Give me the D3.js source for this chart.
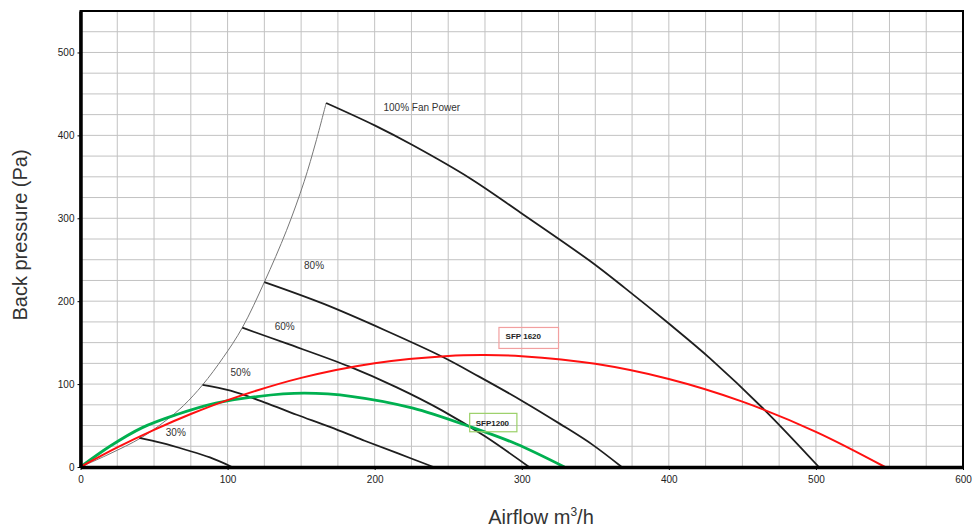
<!DOCTYPE html>
<html>
<head>
<meta charset="utf-8">
<script src="https://cdn.jsdelivr.net/npm/d3@7"></script>
<style>
    body { margin: 0; background: #fff; }
    svg { display: block; font-family: Arial, "Liberation Sans", sans-serif; }
</style>
</head>
<body>
<svg id="drawing_region"></svg>
<script>
// axis ticks
var xTicks = [0, 100, 200, 300, 400, 500, 600];
var yTicks = [0, 100, 200, 300, 400, 500];

// fan curves (airflow m3/h, back pressure Pa)
var fan100 = [
    {x:167, y:439}, {x:200, y:412}, {x:226, y:388}, {x:265, y:348}, {x:299, y:307},
    {x:346, y:249}, {x:370, y:216}, {x:400, y:173}, {x:428, y:131}, {x:465, y:69}, {x:502, y:0}
];
var fan80 = [
    {x:125, y:223}, {x:165, y:197}, {x:207, y:165}, {x:246, y:133}, {x:271, y:109},
    {x:300, y:80}, {x:326, y:52}, {x:348, y:27}, {x:368, y:0}
];
var fan60 = [
    {x:110, y:168}, {x:140, y:149}, {x:183, y:121}, {x:215, y:96}, {x:246, y:68},
    {x:275, y:37}, {x:305, y:0}
];
var fan50 = [
    {x:83, y:99}, {x:102, y:92}, {x:125, y:78}, {x:147, y:63}, {x:170, y:48},
    {x:192, y:32.5}, {x:215, y:17}, {x:240, y:0}
];
var fan30 = [
    {x:40, y:35}, {x:55, y:29}, {x:72, y:20.5}, {x:88, y:11.5}, {x:103, y:0}
];
// envelope through the start of each fan curve
var envelope = [
    {x:0, y:0}, {x:20, y:16}, {x:41, y:35}, {x:58, y:56}, {x:70, y:74}, {x:83, y:99},
    {x:97, y:132}, {x:110, y:168}, {x:125, y:223}, {x:140, y:285}, {x:152, y:344},
    {x:160, y:392}, {x:167, y:439}
];
// SFP system curves
var sfp1620 = [
    {x:0, y:0}, {x:25, y:23.6}, {x:50, y:44.8}, {x:75, y:63.9}, {x:100, y:80.7},
    {x:150, y:107.5}, {x:200, y:125.2}, {x:250, y:134}, {x:275, y:135}, {x:300, y:133.7},
    {x:350, y:124.4}, {x:400, y:106.1}, {x:450, y:78.8}, {x:500, y:42.4}, {x:547, y:0}
];
var sfp1200 = [
    {x:0, y:0}, {x:20, y:25}, {x:42, y:47.5}, {x:65, y:63}, {x:92, y:77}, {x:120, y:85},
    {x:152, y:89}, {x:185, y:85}, {x:226, y:71}, {x:265, y:48.5}, {x:296, y:28}, {x:329, y:0}
];

var fanLabels = ['100% Fan Power', '80%', '60%', '50%', '30%'];
var sfpLabels = ['SFP 1620', 'SFP1200'];

class FanChart {

    constructor(config) {
        this.config = {
            parent: config.parent,
            width: config.width || 973,
            height: config.height || 529,
            margin: config.margin || {top:11, right:10, bottom:62, left:80.5}
        };
        this.init();
    }

    init() {
        let self = this;

        self.svg = d3.select(self.config.parent)
            .attr('width', self.config.width)
            .attr('height', self.config.height);

        self.chart = self.svg.append('g')
            .attr('transform', `translate(${self.config.margin.left}, ${self.config.margin.top})`);

        self.inner_width = self.config.width - self.config.margin.left - self.config.margin.right;
        self.inner_height = self.config.height - self.config.margin.top - self.config.margin.bottom;

        self.xscale = d3.scaleLinear()
            .domain([0, 600])
            .range([0, self.inner_width]);

        self.yscale = d3.scaleLinear()
            .domain([0, 550])
            .range([self.inner_height, 0]);

        self.line = d3.line()
            .x(d => self.xscale(d.x))
            .y(d => self.yscale(d.y))
            .curve(d3.curveCatmullRom.alpha(0.5));
    }

    render() {
        let self = this;
        const w = self.inner_width, h = self.inner_height;

        // grid every 25
        self.chart.append('g')
            .selectAll('line')
            .data(d3.range(25, 600, 25))
            .join('line')
            .attr('x1', d => self.xscale(d)).attr('x2', d => self.xscale(d))
            .attr('y1', 0).attr('y2', h)
            .attr('stroke', '#c2c2c2')
            .attr('stroke-width', 1);

        self.chart.append('g')
            .selectAll('line')
            .data(d3.range(25, 550, 25))
            .join('line')
            .attr('x1', 0).attr('x2', w)
            .attr('y1', d => self.yscale(d)).attr('y2', d => self.yscale(d))
            .attr('stroke', '#c2c2c2')
            .attr('stroke-width', 1);

        // frame
        self.chart.append('rect')
            .attr('width', w).attr('height', h)
            .attr('fill', 'none')
            .attr('stroke', '#000')
            .attr('stroke-width', 2);

        // envelope
        self.chart.append('path')
            .attr('d', self.line(envelope))
            .attr('fill', 'none')
            .attr('stroke', '#777')
            .attr('stroke-width', 1);

        // fan curves
        [fan100, fan80, fan60, fan50, fan30].forEach(c => {
            self.chart.append('path')
                .attr('d', self.line(c))
                .attr('fill', 'none')
                .attr('stroke', '#1e1e1e')
                .attr('stroke-width', 1.8);
        });

        // SFP curves
        self.chart.append('path')
            .attr('d', self.line(sfp1200))
            .attr('fill', 'none')
            .attr('stroke', '#00b050')
            .attr('stroke-width', 2.8);

        self.chart.append('path')
            .attr('d', self.line(sfp1620))
            .attr('fill', 'none')
            .attr('stroke', '#ff1010')
            .attr('stroke-width', 2);

        // axes
        const xaxis = d3.axisBottom(self.xscale)
            .tickValues(xTicks)
            .tickSize(3)
            .tickSizeOuter(0);
        const yaxis = d3.axisLeft(self.yscale)
            .tickValues(yTicks)
            .tickSize(3)
            .tickSizeOuter(0);

        const xg = self.chart.append('g')
            .attr('transform', `translate(0, ${h})`)
            .call(xaxis);
        xg.select('.domain').attr('stroke-width', 3.5);
        xg.selectAll('text').attr('font-size', 10).attr('fill', '#222').attr('dy', '0.95em');

        const yg = self.chart.append('g')
            .call(yaxis);
        yg.select('.domain').attr('stroke-width', 3.5);
        yg.selectAll('text').attr('font-size', 10).attr('fill', '#222');

        // curve labels
        const labelPos = [[206, 434], [152, 243], [132, 169], [102, 114], [58, 42]];
        fanLabels.forEach((t, i) => {
            self.chart.append('text')
                .attr('x', self.xscale(labelPos[i][0]))
                .attr('y', self.yscale(labelPos[i][1]))
                .attr('dy', '0.35em')
                .attr('font-size', 10)
                .attr('fill', '#333')
                .text(t);
        });

        const boxes = [
            {x0:284.5, x1:325, y0:168.3, y1:143, tx:289, ty:157.5, stroke:'#f2a0a0'},
            {x0:264.6, x1:296.7, y0:64.7, y1:42.5, tx:268.7, ty:52.6, stroke:'#9bd068'}
        ];
        boxes.forEach((b, i) => {
            self.chart.append('rect')
                .attr('x', self.xscale(b.x0))
                .attr('y', self.yscale(b.y0))
                .attr('width', self.xscale(b.x1) - self.xscale(b.x0))
                .attr('height', self.yscale(b.y1) - self.yscale(b.y0))
                .attr('fill', 'none')
                .attr('stroke', b.stroke)
                .attr('stroke-width', 1.2);
            self.chart.append('text')
                .attr('x', self.xscale(b.tx))
                .attr('y', self.yscale(b.ty))
                .attr('dy', '0.35em')
                .attr('font-size', 8)
                .attr('font-weight', 'bold')
                .attr('fill', '#222')
                .text(sfpLabels[i]);
        });

        // axis titles
        self.svg.append('text')
            .attr('transform', `translate(27, 235) rotate(-90)`)
            .attr('text-anchor', 'middle')
            .attr('font-size', 20)
            .attr('fill', '#333')
            .text('Back pressure (Pa)');

        const xt = self.svg.append('text')
            .attr('x', 541)
            .attr('y', 524)
            .attr('text-anchor', 'middle')
            .attr('font-size', 20)
            .attr('fill', '#333');
        xt.append('tspan').text('Airflow m');
        xt.append('tspan').attr('font-size', 12).attr('dy', -8).text('3');
        xt.append('tspan').attr('dy', 8).text('/h');
    }
}

var config = {
    parent: '#drawing_region',
    width: 973,
    height: 529,
    margin: {top:11, right:10, bottom:62, left:80.5}
};

const chart = new FanChart(config);
chart.render();
</script>
</body>
</html>
